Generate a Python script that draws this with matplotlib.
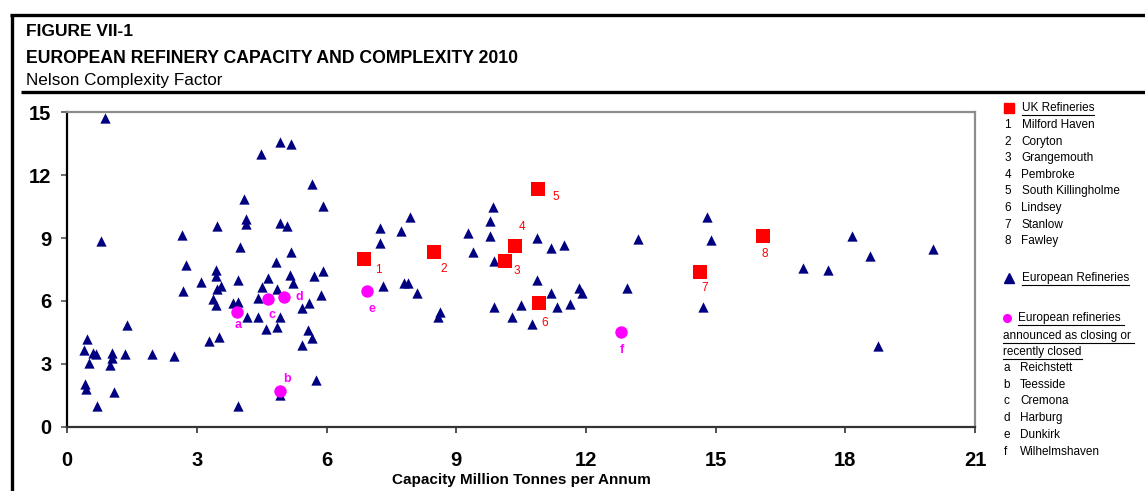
import matplotlib
matplotlib.use('Agg')
import matplotlib.pyplot as plt

plt.rcParams['font.family'] = ['Liberation Sans', 'DejaVu Sans']

# --- European refineries: capacity (Mt/yr) vs Nelson complexity ---
eu_capacity = [
    0.87, 4.93, 5.18, 4.48, 5.67, 4.09, 5.92, 4.14, 4.14, 3.46,
    4.92, 5.09, 2.66, 0.78, 4.00, 5.18, 4.82, 2.75, 3.45, 3.43,
    5.92, 5.15, 5.71, 4.65, 3.94, 3.09, 5.23, 3.55, 3.47, 4.50,
    4.86, 2.68, 5.87, 4.41, 3.36, 3.84, 3.96, 3.44, 5.59, 5.43,
    4.15, 4.41, 4.93, 4.59, 4.84, 5.56, 5.67, 1.38, 0.46, 3.28,
    3.50, 5.43, 0.39, 0.60, 0.66, 1.03, 1.03, 1.34, 1.95, 2.47,
    0.50, 0.99, 5.76, 0.40, 0.43, 1.09, 0.69, 3.95, 4.92,
    7.23, 7.94, 7.73, 7.24, 7.30, 7.78, 7.89, 8.09, 8.63, 8.58,
    9.28, 9.78, 9.86, 9.78, 9.38, 9.87, 10.86, 11.20, 11.50, 10.86,
    11.18, 11.84, 11.91, 9.87, 10.50, 10.29, 10.76, 11.34, 11.64, 12.95,
    13.20, 14.80, 14.90, 14.71, 18.16, 18.58, 20.03, 17.02, 17.60, 18.75,
]
eu_complexity = [
    14.75, 13.56, 13.50, 13.00, 11.60, 10.86, 10.52, 9.90, 9.66, 9.58,
    9.73, 9.57, 9.16, 8.86, 8.58, 8.35, 7.87, 7.70, 7.47, 7.20,
    7.42, 7.23, 7.19, 7.10, 7.00, 6.89, 6.87, 6.72, 6.55, 6.65,
    6.55, 6.47, 6.28, 6.12, 6.07, 5.91, 5.93, 5.80, 5.88, 5.64,
    5.25, 5.22, 5.25, 4.66, 4.74, 4.61, 4.24, 4.83, 4.18, 4.07,
    4.26, 3.90, 3.66, 3.50, 3.46, 3.50, 3.26, 3.47, 3.47, 3.37,
    3.02, 2.94, 2.23, 2.04, 1.78, 1.67, 0.99, 0.99, 1.51,
    9.49, 9.99, 9.33, 8.75, 6.73, 6.84, 6.84, 6.39, 5.48, 5.25,
    9.25, 9.82, 10.46, 9.09, 8.32, 7.90, 9.00, 8.51, 8.68, 7.00,
    6.36, 6.60, 6.36, 5.69, 5.82, 5.25, 4.90, 5.69, 5.85, 6.60,
    8.94, 9.99, 8.90, 5.72, 9.08, 8.15, 8.46, 7.58, 7.49, 3.85,
]

# --- UK refineries ---
uk_ids = ['1', '2', '3', '4', '5', '6', '7', '8']
uk_names = ['Milford Haven', 'Coryton', 'Grangemouth', 'Pembroke',
            'South Killingholme', 'Lindsey', 'Stanlow', 'Fawley']
uk_capacity = [6.86, 8.49, 10.12, 10.36, 10.90, 10.92, 14.63, 16.09]
uk_complexity = [8.01, 8.32, 7.92, 8.63, 11.32, 5.88, 7.36, 9.08]

# --- closing / recently closed ---
cl_ids = ['a', 'b', 'c', 'd', 'e', 'f']
cl_names = ['Reichstett', 'Teesside', 'Cremona', 'Harburg', 'Dunkirk',
            'Wilhelmshaven']
cl_capacity = [3.93, 4.92, 4.65, 5.02, 6.94, 12.82]
cl_complexity = [5.46, 1.72, 6.09, 6.17, 6.49, 4.50]

# label offsets in pixels (dx, dy up)
uk_offsets = [(15, -11), (9, -17), (12, -10), (7, 19), (17, -8), (5, -20),
              (5, -16), (2, -18)]
cl_offsets = [(1, -13), (7, 12), (4, -16), (15, 0), (5, -18), (0, -18)]

NAVY = '#000080'
RED = '#FF0000'
MAGENTA = '#FF00FF'
W, H = 1145, 491

fig = plt.figure(figsize=(W / 100, H / 100), dpi=100)
ax_l, ax_r, ax_t, ax_b = 67.3, 975.0, 112.3, 426.7
ax = fig.add_axes([ax_l / W, 1 - ax_b / H, (ax_r - ax_l) / W, (ax_b - ax_t) / H])

ax.scatter(eu_capacity, eu_complexity, marker='^', s=55, color=NAVY,
           linewidths=0, zorder=3, clip_on=False)
ax.scatter(uk_capacity, uk_complexity, marker='s', s=90, color=RED,
           linewidths=0, zorder=4)
ax.scatter(cl_capacity, cl_complexity, marker='o', s=80, color=MAGENTA,
           linewidths=0, zorder=5)

for lab, x, y, off in zip(uk_ids, uk_capacity, uk_complexity, uk_offsets):
    ax.annotate(lab, (x, y), xytext=off, textcoords='offset pixels',
                ha='center', va='center', color=RED, fontsize=8.5, zorder=6)
for lab, x, y, off in zip(cl_ids, cl_capacity, cl_complexity, cl_offsets):
    ax.annotate(lab, (x, y), xytext=off, textcoords='offset pixels',
                ha='center', va='center', color=MAGENTA, fontsize=9,
                fontweight='bold', zorder=6)

ax.set_xlim(0, 21)
ax.set_ylim(0, 15)
ax.set_xticks(range(0, 22, 3), labels=[str(v) for v in range(0, 22, 3)],
              fontsize=14.5, fontweight='bold')
ax.set_yticks(range(0, 16, 3), labels=[str(v) for v in range(0, 16, 3)],
              fontsize=14.5, fontweight='bold')
ax.tick_params(axis='x', direction='out', length=4.5, width=1.2, pad=13,
               color='#333333')
ax.tick_params(axis='y', direction='out', length=4.5, width=1.2, pad=7,
               color='#555555')
ax.spines['left'].set_color('black')
ax.spines['bottom'].set_color('#333333')
for side in ['top', 'right']:
    ax.spines[side].set_color('#8c8c8c')
for side in ax.spines:
    ax.spines[side].set_linewidth(1.6)

# overlay in pixel coordinates for titles, frame lines and the key
ov = fig.add_axes([0, 0, 1, 1])
ov.set_xlim(0, W)
ov.set_ylim(H, 0)
ov.axis('off')

ov.plot([11.5, 11.5], [13.5, H], color='black', lw=2.4, solid_capstyle='butt')
ov.plot([10, W], [14.5, 14.5], color='black', lw=2.4, solid_capstyle='butt')
ov.plot([21, W], [91.5, 91.5], color='black', lw=2.4, solid_capstyle='butt')

ov.text(26.5, 36, 'FIGURE VII-1', fontsize=12.5, fontweight='bold', va='baseline')
ov.text(26.5, 63, 'EUROPEAN REFINERY CAPACITY AND COMPLEXITY 2010',
        fontsize=12.7, fontweight='bold', va='baseline')
ov.text(26.5, 85, 'Nelson Complexity Factor', fontsize=12.3, va='baseline')
ov.text((ax_l + ax_r) / 2, 484, 'Capacity Million Tonnes per Annum',
        fontsize=11, fontweight='bold', ha='center', va='baseline')

# key
fs = 8.5
underlined = []
ov.plot(1009, 107.7, marker='s', ms=6.5, color=RED, ls='none')
underlined.append((ov.text(1021.5, 107.7, 'UK Refineries', fontsize=fs, va='center'), 0))
for i, (lab, name) in enumerate(zip(uk_ids, uk_names)):
    y = 125 + 16.6 * i
    ov.text(1004.5, y, lab, fontsize=fs, va='center')
    ov.text(1021.5, y, name, fontsize=fs, va='center')

ov.plot(1009, 278.3, marker='^', ms=7, color=NAVY, ls='none')
underlined.append((ov.text(1022, 278.3, 'European Refineries', fontsize=fs, va='center'), 0))

ov.plot(1007, 317.7, marker='o', ms=5.5, color=MAGENTA, ls='none')
underlined.append((ov.text(1018, 317.7, 'European refineries', fontsize=fs, va='center'), 3))
underlined.append((ov.text(1003.3, 336, 'announced as closing or', fontsize=fs, va='center'), 3))
underlined.append((ov.text(1003.3, 351.7, 'recently closed', fontsize=fs, va='center'), 0))
for i, (lab, name) in enumerate(zip(cl_ids, cl_names)):
    y = 367.7 + 16.8 * i
    ov.text(1003.5, y, lab, fontsize=fs, va='center')
    ov.text(1020, y, name, fontsize=fs, va='center')

fig.canvas.draw()
for t, extra in underlined:
    bb = t.get_window_extent()
    y = t.get_position()[1] + 7
    ov.plot([bb.x0, bb.x1 + extra], [y, y], color='black', lw=0.8)

fig.savefig('out.png', dpi=100)
